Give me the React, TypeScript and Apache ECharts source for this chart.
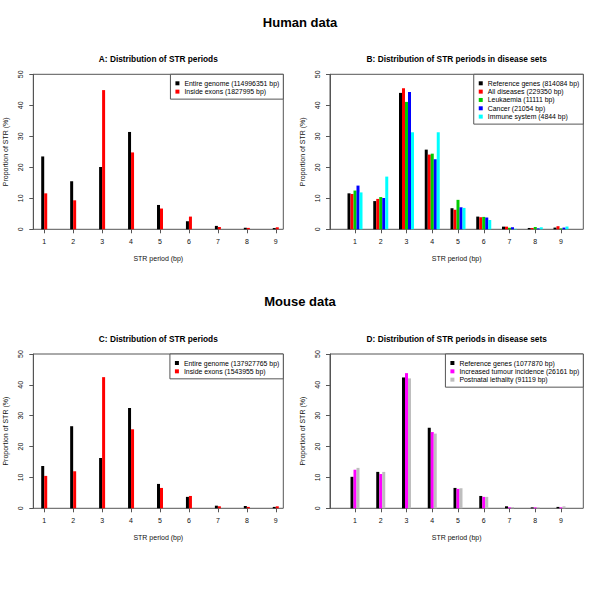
import React, { useEffect, useRef } from "react";
import * as echarts from "echarts";

const periods = [1, 2, 3, 4, 5, 6, 7, 8, 9];
const yTicks = [0, 10, 20, 30, 40, 50];

// Panel A: human
const humanGenome = [23.5, 15.5, 20.1, 31.4, 7.85, 2.6, 1.1, 0.5, 0.4];
const humanExons = [11.6, 9.35, 44.9, 24.8, 6.7, 4.1, 0.75, 0.45, 0.65];
// Panel B: human disease sets
const humanRefGenes = [11.6, 9.1, 44.0, 25.7, 6.8, 4.1, 0.86, 0.43, 0.55];
const humanAllDiseases = [11.4, 9.8, 45.5, 24.1, 6.3, 3.9, 0.86, 0.43, 1.0];
const humanLeukaemia = [12.5, 10.4, 41.1, 24.4, 9.5, 4.0, 0.5, 0.75, 0.3];
const humanCancer = [14.1, 10.1, 44.3, 22.6, 7.1, 3.8, 0.65, 0.3, 0.55];
const humanImmune = [11.9, 17.0, 31.3, 31.3, 6.9, 3.0, 0.15, 0.65, 0.9];
// Panel C: mouse
const mouseGenome = [13.7, 26.6, 16.3, 32.5, 7.9, 3.7, 0.85, 0.75, 0.45];
const mouseExons = [10.5, 12.0, 42.5, 25.6, 6.6, 4.0, 0.65, 0.45, 0.65];
// Panel D: mouse disease sets
const mouseRefGenes = [10.2, 11.8, 42.4, 26.1, 6.6, 4.0, 0.65, 0.3, 0.45];
const mouseTumour = [12.5, 11.1, 43.8, 24.7, 6.3, 3.7, 0.3, 0.3, 0.3];
const mouseLethality = [13.1, 11.8, 42.1, 24.2, 6.5, 3.7, 0.45, 0.3, 0.65];

const panelA = [
  { name: "Entire genome (114996351 bp)", data: humanGenome, color: "#000000" },
  { name: "Inside exons (1827995 bp)", data: humanExons, color: "#ff0000" },
];
const panelB = [
  { name: "Reference genes (814084 bp)", data: humanRefGenes, color: "#000000" },
  { name: "All diseases (229350 bp)", data: humanAllDiseases, color: "#ff0000" },
  { name: "Leukaemia (11111 bp)", data: humanLeukaemia, color: "#00cd00" },
  { name: "Cancer (21054 bp)", data: humanCancer, color: "#0000ff" },
  { name: "Immune system (4844 bp)", data: humanImmune, color: "#00ffff" },
];
const panelC = [
  { name: "Entire genome (137927765 bp)", data: mouseGenome, color: "#000000" },
  { name: "Inside exons (1543955 bp)", data: mouseExons, color: "#ff0000" },
];
const panelD = [
  { name: "Reference genes (1077870 bp)", data: mouseRefGenes, color: "#000000" },
  { name: "Increased tumour incidence (26161 bp)", data: mouseTumour, color: "#ff00ff" },
  { name: "Postnatal lethality (91119 bp)", data: mouseLethality, color: "#bebebe" },
];

const FONT = "'Liberation Sans', Arial, Helvetica, sans-serif";
const LINE = "#555555";
const TEXT = "#111111";

const grids = [
  { left: 33.3, top: 74.3, width: 250, height: 155, xmin: 0.623, xmax: 9.26 },
  { left: 330, top: 74.3, width: 253.3, height: 155, xmin: 0.029, xmax: 9.866 },
  { left: 33.3, top: 354, width: 250, height: 154.3, xmin: 0.623, xmax: 9.26 },
  { left: 330, top: 354, width: 253.3, height: 154.3, xmin: 0.029, xmax: 9.866 },
];
const panels = [panelA, panelB, panelC, panelD];

function buildOption() {
  const grid = grids.map((g) => ({
    left: g.left,
    top: g.top,
    width: g.width,
    height: g.height,
    show: true,
    borderColor: LINE,
    borderWidth: 1,
    backgroundColor: "transparent",
  }));
  const xAxis = grids.map((g, i) => ({
    type: "value",
    gridIndex: i,
    min: g.xmin,
    max: g.xmax,
    axisLine: { show: false, lineStyle: { color: LINE } },
    splitLine: { show: false },
    axisTick: {
      show: true,
      length: 4,
      customValues: periods,
      lineStyle: { color: LINE },
    },
    axisLabel: {
      show: true,
      customValues: periods,
      margin: 9,
      fontSize: 7,
      color: TEXT,
      fontFamily: FONT,
    },
  }));
  const yAxis = grids.map((g, i) => ({
    type: "value",
    gridIndex: i,
    min: 0,
    max: 50,
    interval: 10,
    axisLine: { show: true, lineStyle: { color: LINE } },
    splitLine: { show: false },
    axisTick: { show: true, length: 4, lineStyle: { color: LINE } },
    axisLabel: {
      rotate: 90,
      margin: 9,
      fontSize: 7,
      color: TEXT,
      fontFamily: FONT,
      customValues: yTicks,
    },
    name: "Proportion of STR (%)",
    nameLocation: "middle",
    nameGap: 24,
    nameRotate: 90,
    nameTextStyle: { fontSize: 7, color: TEXT, fontFamily: FONT },
  }));
  const series: any[] = [];
  panels.forEach((p, i) => {
    p.forEach((s) => {
      series.push({
        type: "bar",
        name: s.name,
        xAxisIndex: i,
        yAxisIndex: i,
        barWidth: 3,
        barGap: "0%",
        itemStyle: { color: s.color },
        data: periods.map((x, k) => [x, s.data[k]]),
      });
    });
  });
  const legendPos = [
    { right: 600 - 283.3, top: 74.3 },
    { right: 600 - 583.3, top: 74.3 },
    { right: 600 - 283.3, top: 354 },
    { right: 600 - 583.3, top: 354 },
  ];
  const legend = panels.map((p, i) => ({
    ...legendPos[i],
    orient: "vertical",
    icon: "rect",
    itemWidth: 4,
    itemHeight: 4,
    itemGap: 0.33,
    padding: [5, 4, 3.5, 5],
    borderColor: LINE,
    borderWidth: 1,
    borderRadius: 0,
    backgroundColor: "#fff",
    textStyle: { fontSize: 6.9, lineHeight: 8, color: "#000", fontFamily: FONT },
    data: p.map((s) => s.name),
  }));
  const mk = (text: string, x: number, y: number, size: number, bold = true) => ({
    type: "text",
    x,
    y,
    style: {
      text,
      font: `${bold ? "bold " : ""}${size}px ${FONT}`,
      fill: bold ? "#000" : TEXT,
      textAlign: "center",
      textVerticalAlign: "middle",
    },
  });
  const graphic = [
    mk("Human data", 300, 22, 13),
    mk("Mouse data", 300, 301, 13),
    mk("A: Distribution of STR periods", 158.3, 59, 8.3),
    mk("B: Distribution of STR periods in disease sets", 456.7, 59, 8.3),
    mk("C: Distribution of STR periods", 158.3, 339, 8.3),
    mk("D: Distribution of STR periods in disease sets", 456.7, 339, 8.3),
    ...grids.map((g) =>
      mk("STR period (bp)", g.left + g.width / 2, g.top + g.height + 29.5, 7, false)
    ),
  ];
  return {
    animation: false,
    backgroundColor: "#ffffff",
    textStyle: { fontFamily: FONT },
    grid,
    xAxis,
    yAxis,
    legend,
    graphic,
    series,
  };
}

export default function App() {
  const ref = useRef<HTMLDivElement>(null);
  useEffect(() => {
    if (!ref.current) return;
    const chart = echarts.init(ref.current, undefined, { renderer: "svg" });
    chart.setOption(buildOption() as any);
    return () => chart.dispose();
  }, []);
  return (
    <div
      ref={ref}
      style={{ position: "fixed", left: 0, top: 0, width: 600, height: 600 }}
    />
  );
}
